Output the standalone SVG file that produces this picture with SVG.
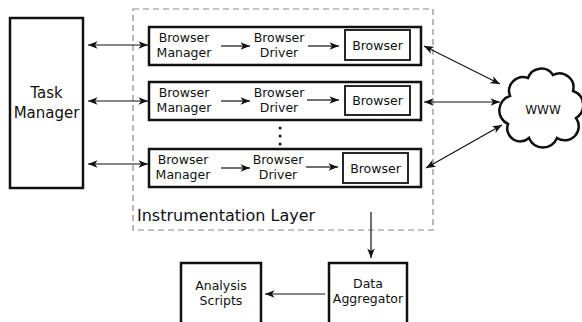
<svg xmlns="http://www.w3.org/2000/svg" width="582" height="322" viewBox="0 0 582 322">
<style>
text{font-family:"DejaVu Sans","Liberation Sans",sans-serif;fill:#111;text-anchor:middle}
.box{fill:#fff;stroke:#111;stroke-width:2.5}
.inner{fill:#fff;stroke:#111;stroke-width:1.8}
.t12{font-size:12.5px}
.conn{stroke:#111;stroke-width:1.2;fill:none}
</style>
<defs>
<marker id="ah" viewBox="-10 -5 12 10" refX="0" refY="0" markerWidth="12" markerHeight="10" markerUnits="userSpaceOnUse" orient="auto-start-reverse">
<path d="M0,0 L-9.5,-3.8 L-7,0 L-9.5,3.8 Z" fill="#111"/>
</marker>
</defs>

<g id="instrumentation-layer">
<rect x="133" y="9" width="300" height="221" fill="none" stroke="#888" stroke-width="1.2" stroke-dasharray="6,4"/>
<text x="137" y="221" style="font-size:16px;text-anchor:start">Instrumentation Layer</text>
</g>

<g id="task-manager">
<rect class="box" x="10" y="18" width="73" height="170"/>
<text x="46.5" y="98" style="font-size:15px">Task</text>
<text x="46.5" y="118" style="font-size:15px">Manager</text>
</g>

<g id="row1">
<rect class="box" x="149" y="27" width="272" height="38"/>
<text class="t12" x="184" y="42">Browser</text>
<text class="t12" x="184" y="57">Manager</text>
<text class="t12" x="279" y="42">Browser</text>
<text class="t12" x="279" y="57">Driver</text>
<rect class="inner" x="345" y="30" width="65" height="30"/>
<text class="t12" x="377.5" y="50">Browser</text>
</g>

<g id="row2">
<rect class="box" x="149" y="82" width="272" height="38"/>
<text class="t12" x="184" y="97">Browser</text>
<text class="t12" x="184" y="112">Manager</text>
<text class="t12" x="279" y="97">Browser</text>
<text class="t12" x="279" y="112">Driver</text>
<rect class="inner" x="345" y="86" width="65" height="29"/>
<text class="t12" x="377.5" y="105">Browser</text>
</g>

<g id="dots">
<rect x="278.8" y="126.8" width="2.6" height="2.6" fill="#111"/>
<rect x="278.8" y="134.8" width="2.6" height="2.6" fill="#111"/>
<rect x="278.8" y="142.8" width="2.6" height="2.6" fill="#111"/>
</g>

<g id="row3">
<rect class="box" x="149" y="149" width="272" height="38"/>
<text class="t12" x="183" y="164">Browser</text>
<text class="t12" x="183" y="179">Manager</text>
<text class="t12" x="278" y="164">Browser</text>
<text class="t12" x="278" y="179">Driver</text>
<rect class="inner" x="343" y="153" width="65" height="30"/>
<text class="t12" x="375.5" y="173">Browser</text>
</g>

<g id="www">
<path d="M510,96 A14,14 0 0 1 528,78 A14,14 0 0 1 553,75 A14,14 0 0 1 573,91 A15,15 0 0 1 576,118 A14,14 0 0 1 557,138 A15,15 0 0 1 529,138 A13,13 0 0 1 508,124 A15,15 0 0 1 510,96 Z" fill="#fff" stroke="#111" stroke-width="2.5"/>
<text x="543" y="114" style="font-size:12px">WWW</text>
</g>

<g id="analysis-scripts">
<rect class="box" x="181" y="263" width="80" height="70"/>
<text class="t12" x="221" y="290">Analysis</text>
<text class="t12" x="221" y="305">Scripts</text>
</g>

<g id="data-aggregator">
<rect class="box" x="329" y="263" width="78" height="70"/>
<text class="t12" x="368" y="288">Data</text>
<text class="t12" x="368" y="303">Aggregator</text>
</g>

<g id="connectors">
<line class="conn" x1="88" y1="45" x2="148" y2="45" marker-start="url(#ah)" marker-end="url(#ah)"/>
<line class="conn" x1="88" y1="101" x2="148" y2="101" marker-start="url(#ah)" marker-end="url(#ah)"/>
<line class="conn" x1="88" y1="164" x2="148" y2="164" marker-start="url(#ah)" marker-end="url(#ah)"/>
<line class="conn" x1="221" y1="46" x2="250" y2="46" marker-end="url(#ah)"/>
<line class="conn" x1="221" y1="101" x2="250" y2="101" marker-end="url(#ah)"/>
<line class="conn" x1="221" y1="168" x2="250" y2="168" marker-end="url(#ah)"/>
<line class="conn" x1="308" y1="46" x2="339" y2="46" marker-end="url(#ah)"/>
<line class="conn" x1="307" y1="100" x2="339" y2="100" marker-end="url(#ah)"/>
<line class="conn" x1="306" y1="167" x2="338" y2="167" marker-end="url(#ah)"/>
<line class="conn" x1="424" y1="46" x2="500" y2="84" marker-start="url(#ah)" marker-end="url(#ah)"/>
<line class="conn" x1="424" y1="102" x2="500" y2="102" marker-start="url(#ah)" marker-end="url(#ah)"/>
<line class="conn" x1="426" y1="168" x2="502" y2="125" marker-start="url(#ah)" marker-end="url(#ah)"/>
<line class="conn" x1="371" y1="212" x2="371" y2="258" marker-end="url(#ah)"/>
<line class="conn" x1="325" y1="294" x2="265" y2="294" marker-end="url(#ah)"/>
</g>
</svg>
